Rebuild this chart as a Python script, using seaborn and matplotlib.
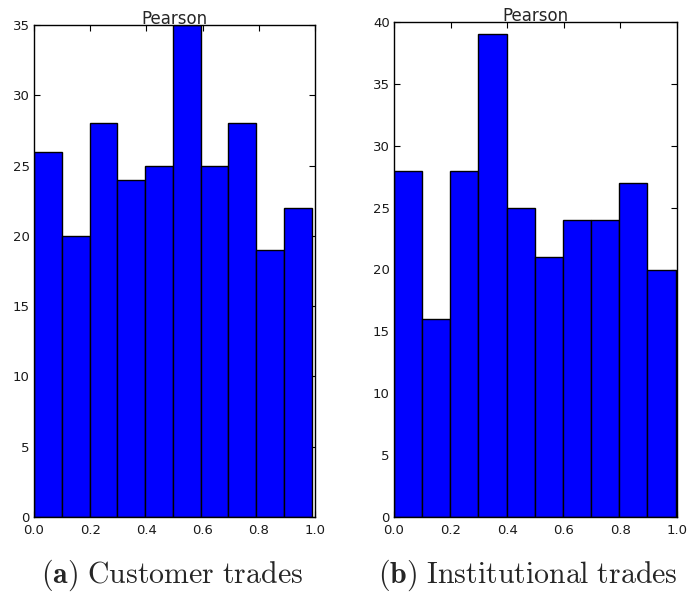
import numpy as np
import pandas as pd
import matplotlib
matplotlib.use("Agg")
import matplotlib.pyplot as plt
import seaborn as sns

# Histogram counts of Pearson correlation per 10 equal-width bins
customer_counts = [26, 20, 28, 24, 25, 35, 25, 28, 19, 22]
institutional_counts = [28, 16, 28, 39, 25, 21, 24, 24, 27, 20]

# Observed range of the correlation values in each sample
customer_range = (0.0, 0.988)
institutional_range = (0.0, 0.995)

customer_yticks = [0, 5, 10, 15, 20, 25, 30, 35]
institutional_yticks = [0, 5, 10, 15, 20, 25, 30, 35, 40]
xticks = [0.0, 0.2, 0.4, 0.6, 0.8, 1.0]

captions = [r"$\mathbf{(a)}\ \mathrm{Customer\ trades}$",
            r"$\mathbf{(b)}\ \mathrm{Institutional\ trades}$"]

sns.set_style("white")
plt.rcParams["font.family"] = ["DejaVu Sans"]
plt.rcParams["mathtext.fontset"] = "cm"

fig = plt.figure(figsize=(6.89, 5.99), dpi=100)
ax_a = fig.add_axes([34 / 689, 82 / 599, 281 / 689, 492 / 599])
ax_b = fig.add_axes([394 / 689, 82 / 599, 283 / 689, 495 / 599])

panels = [
    (ax_a, customer_counts, customer_range, customer_yticks, 35),
    (ax_b, institutional_counts, institutional_range, institutional_yticks, 40),
]

for ax, counts, (lo, hi), yticks, ymax in panels:
    nbins = len(counts)
    width = (hi - lo) / nbins
    centers = lo + width * (np.arange(nbins) + 0.5)
    df = pd.DataFrame({"r": centers, "n": counts})
    sns.histplot(data=df, x="r", weights="n", bins=nbins, binrange=(lo, hi),
                 ax=ax, color="#0000ff", edgecolor="black", linewidth=1.0,
                 alpha=1.0)
    ax.set_xlim(0, 1)
    ax.set_ylim(0, ymax)
    ax.set_xticks(xticks)
    ax.set_xticklabels([f"{t:.1f}" for t in xticks])
    ax.set_yticks(yticks)
    ax.set_xlabel("")
    ax.set_ylabel("")
    ax.set_title("Pearson", fontsize=12, pad=1)
    ax.tick_params(direction="in", length=4, width=0.8, labelsize=9.5,
                   top=True, right=True, bottom=True, left=True,
                   colors="black", labelcolor="#1a1a1a", pad=3)
    ax.tick_params(axis="x", pad=5)
    for s in ax.spines.values():
        s.set_visible(True)
        s.set_color("black")
        s.set_linewidth(1.0)

fig.text(172 / 689, 1 - 575 / 599, captions[0], ha="center", va="center", fontsize=21.5)
fig.text(528 / 689, 1 - 575 / 599, captions[1], ha="center", va="center", fontsize=21.5)

fig.savefig("out.png", dpi=100)
